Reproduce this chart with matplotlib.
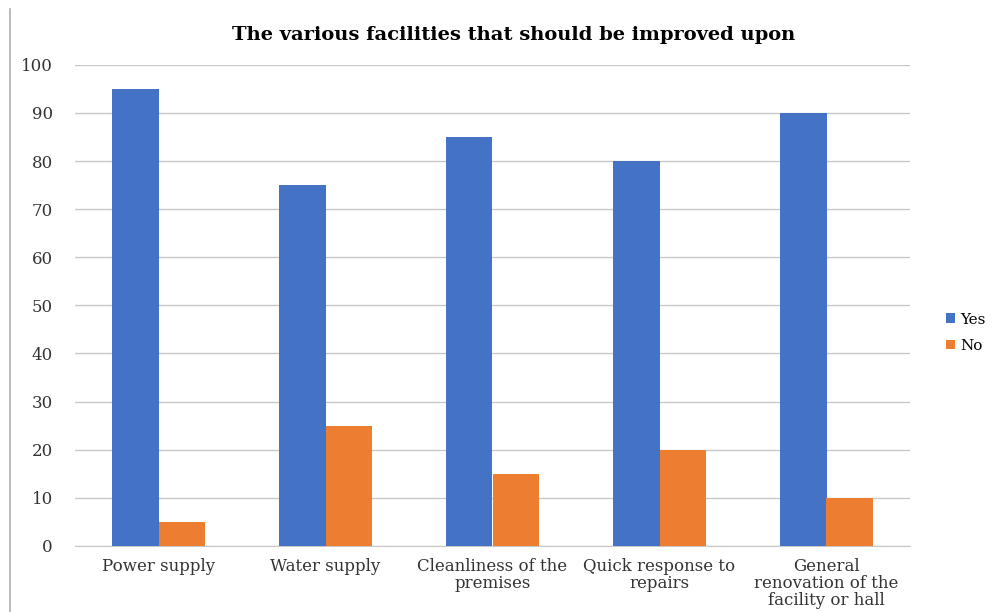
import matplotlib.pyplot as plt
from matplotlib.lines import Line2D
import numpy as np

categories = ["Power supply", "Water supply", "Cleanliness of the\npremises",
              "Quick response to\nrepairs", "General\nrenovation of the\nfacility or hall"]
yes_vals = [95, 75, 85, 80, 90]
no_vals = [5, 25, 15, 20, 10]

plt.rcParams['font.family'] = ['DejaVu Serif']

fig = plt.figure(figsize=(10, 6.12), dpi=100)
ax = fig.add_axes([0.075, 0.108, 0.835, 0.786])

x = np.arange(len(categories))
w = 0.28
ax.bar(x - w / 2, yes_vals, w, color='#4472C4', label='Yes', zorder=3)
ax.bar(x + w / 2, no_vals, w, color='#ED7D31', label='No', zorder=3)

ax.set_xlim(-0.5, len(categories) - 0.5)
ax.set_ylim(0, 100)
ax.set_yticks(range(0, 101, 10))
ax.set_xticks(x)
ax.set_xticklabels(categories, fontsize=12, color='#333333', linespacing=1.0)
ax.tick_params(axis='y', labelsize=12, labelcolor='#333333', length=0, pad=16)
ax.tick_params(axis='x', length=0, pad=9)
ax.grid(axis='y', color='#c8c8c8', linewidth=1, zorder=0)
for side in ['top', 'right', 'left']:
    ax.spines[side].set_visible(False)
ax.spines['bottom'].set_color('#c8c8c8')

ax.set_title("The various facilities that should be improved upon",
             fontsize=14, fontweight='bold', pad=18, x=0.525)

ax.legend(loc='center left', bbox_to_anchor=(1.027, 0.443), frameon=False,
          fontsize=11, handlelength=0.6, handleheight=0.6, handletextpad=0.3,
          labelspacing=0.8)

# thin border line at the left edge
fig.add_artist(Line2D([0.010, 0.010], [0.0, 0.985], color='#b0b0b0', linewidth=1.2,
                      transform=fig.transFigure))

fig.savefig('out.png', dpi=100)
